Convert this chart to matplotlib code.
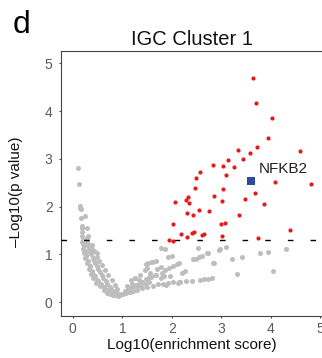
import matplotlib
matplotlib.use("Agg")
import matplotlib.pyplot as plt

plt.rcParams['font.family'] = ['Liberation Sans', 'DejaVu Sans']

# significant terms (red)
sig_x = [3.64, 3.71, 4.03, 3.94, 3.73, 3.33, 3.58, 4.59, 3.43, 3.14,
         3.26, 2.83, 3.03, 2.58, 3.09, 2.48, 4.09, 4.81, 2.47, 3.03,
         3.68, 2.33, 2.85, 2.28, 3.48, 2.07, 2.35, 3.01, 3.86, 2.56,
         2.75, 2.31, 2.42, 3.36, 2.02, 3.00, 3.07, 4.38, 2.19, 2.30,
         2.41, 2.44, 2.61, 2.66, 3.01, 3.74, 1.94, 2.03]
sig_y = [4.70, 4.17, 3.85, 3.43, 3.26, 3.18, 3.12, 3.17, 2.99, 2.98,
         2.84, 2.87, 2.86, 2.73, 2.67, 2.59, 2.52, 2.47, 2.40, 2.38,
         2.29, 2.21, 2.22, 2.14, 2.17, 2.10, 2.07, 2.12, 2.06, 1.94,
         1.91, 1.87, 1.82, 1.82, 1.64, 1.63, 1.66, 1.52, 1.43, 1.36,
         1.45, 1.47, 1.40, 1.43, 1.38, 1.35, 1.31, 1.28]

# non-significant terms (grey)
ns_x = [0.11, 0.13, 0.15, 0.15, 0.16, 0.17, 0.25, 0.18, 0.18, 0.28,
        0.18, 0.19, 0.30, 0.20, 0.32, 0.38, 0.48, 0.25, 0.21,
        0.19, 0.21, 0.23, 0.25, 0.28, 0.32, 0.36, 0.41, 0.47, 0.54,
        0.62, 0.70, 0.76, 0.82, 0.87,
        0.20, 0.22, 0.24, 0.27, 0.30, 0.34, 0.39, 0.44, 0.50, 0.57,
        0.65, 0.73, 0.79, 0.84,
        0.28, 0.31, 0.35, 0.40, 0.45, 0.51, 0.58, 0.66, 0.75, 0.81, 0.86,
        0.29, 0.33, 0.37, 0.42, 0.48, 0.54, 0.61, 0.69, 0.77, 0.83,
        0.38, 0.43, 0.48, 0.53, 0.58, 0.65, 0.72, 0.79, 0.85, 0.89,
        0.26, 0.30, 0.34, 0.38, 0.43, 0.49, 0.56, 0.63, 0.70, 0.78,
        0.92, 0.95, 0.98, 0.90, 0.88,
        1.02, 1.08, 1.15, 1.22, 1.30, 1.40, 1.50, 1.62, 1.72, 1.82,
        1.92, 2.03, 2.15, 2.28, 2.40, 2.58, 2.66, 2.74, 2.82, 3.31, 4.04,
        1.05, 1.12, 1.20, 1.28, 1.38, 1.48, 1.58, 1.68, 1.80, 1.88,
        2.13, 2.17, 1.78, 1.85, 2.27, 2.20, 1.97,
        1.70, 1.78, 1.86, 1.95, 2.03, 2.11, 2.15,
        1.56, 1.53, 1.66, 1.60, 1.47, 1.49, 1.93, 2.00, 1.78, 1.86,
        2.52, 2.74, 2.98, 2.86, 2.42, 2.49, 2.56, 2.62, 2.72,
        2.96, 3.09, 3.78, 3.95, 4.31, 3.22, 3.42, 2.84,
        1.26, 1.33, 1.39, 1.46, 1.54,
        1.06, 1.12, 1.18, 1.25, 1.32, 1.38, 1.10, 1.20,
        1.18, 1.25, 1.35, 1.45, 1.52, 1.59, 1.69]
ns_y = [2.80, 2.47, 2.02, 1.98, 1.95, 1.76, 1.80, 1.60, 1.55, 1.56,
        1.47, 1.38, 1.38, 1.30, 1.19, 1.12, 1.03, 1.05, 1.22,
        1.25, 1.12, 1.02, 0.92, 0.81, 0.70, 0.60, 0.50, 0.41, 0.33,
        0.25, 0.20, 0.17, 0.15, 0.14,
        1.28, 1.17, 1.07, 0.96, 0.86, 0.75, 0.64, 0.55, 0.45, 0.36,
        0.28, 0.22, 0.18, 0.16,
        1.34, 1.20, 1.06, 0.93, 0.81, 0.69, 0.57, 0.45, 0.32, 0.24, 0.19,
        1.27, 1.13, 1.00, 0.87, 0.75, 0.63, 0.51, 0.39, 0.28, 0.22,
        1.20, 1.07, 0.95, 0.86, 0.78, 0.67, 0.57, 0.46, 0.36, 0.27,
        0.98, 0.86, 0.76, 0.66, 0.56, 0.47, 0.39, 0.31, 0.25, 0.20,
        0.13, 0.15, 0.17, 0.20, 0.16,
        0.17, 0.19, 0.21, 0.23, 0.26, 0.29, 0.31, 0.34, 0.37, 0.39,
        0.41, 0.42, 0.43, 0.45, 0.45, 0.47, 0.48, 0.49, 0.50, 0.58, 0.65,
        0.22, 0.27, 0.32, 0.36, 0.42, 0.48, 0.52, 0.56, 0.61, 0.36,
        0.40, 0.43, 0.51, 0.54, 0.65, 0.62, 0.55,
        0.69, 0.74, 0.67, 0.72, 0.76, 0.80, 0.83,
        0.62, 0.52, 0.57, 0.85, 0.79, 0.71, 0.95, 0.97, 1.14, 1.11,
        1.14, 1.04, 1.11, 0.81, 0.90, 0.91, 0.94, 0.97, 1.02,
        1.10, 1.15, 1.02, 1.05, 1.11, 0.90, 0.95, 0.81,
        0.50, 0.46, 0.43, 0.39, 0.43,
        0.24, 0.28, 0.30, 0.33, 0.35, 0.32, 0.33, 0.38,
        0.46, 0.50, 0.57, 0.67, 0.81, 0.85, 0.87]

# highlighted gene
hl_name = "NFKB2"
hl_x, hl_y = 3.60, 2.54

p_cut = 1.3

fig = plt.figure(figsize=(3.22, 3.58), dpi=100)
ax = fig.add_axes([0.1894, 0.1173, 0.8127, 0.7402])

ax.scatter(ns_x, ns_y, s=13, color='#bdbdbd', linewidths=0, zorder=2)
ax.axhline(p_cut, color='black', lw=1, linestyle=(0, (4, 12.3)), zorder=3)
ax.scatter(sig_x, sig_y, s=9, color='#e41a1c', linewidths=0, zorder=4)
ax.scatter([hl_x], [hl_y], s=30, marker='s', color='#2d4b9b', linewidths=0, zorder=5)
ax.text(hl_x + 0.16, hl_y + 0.24, hl_name, fontsize=11, color='#222222',
        va='center', ha='left', zorder=6)

ax.set_xlim(-0.24, 5.05)
ax.set_ylim(-0.29, 5.26)
ax.set_xticks([0, 1, 2, 3, 4, 5])
ax.set_yticks([0, 1, 2, 3, 4, 5])

for sp in ax.spines.values():
    sp.set_color('#444444')
    sp.set_linewidth(0.8)
ax.tick_params(axis='both', length=1.5, width=0.8, colors='#444444',
               labelsize=10, labelcolor='#5a5a5a')
ax.tick_params(axis='y', pad=4.5)
ax.tick_params(axis='x', pad=3)

ax.set_title("IGC Cluster 1", fontsize=14.5, pad=4, color='#111111')
ax.set_xlabel("Log10(enrichment score)", fontsize=11, labelpad=1, color='#111111')
ax.set_ylabel("\u2013Log10(p value)", fontsize=11, color='#111111')
ax.yaxis.set_label_coords(-0.145, 0.468)

fig.text(0.04, 0.908, "d", fontsize=23, color='black', ha='left', va='baseline')

fig.savefig("out.png", dpi=100)
